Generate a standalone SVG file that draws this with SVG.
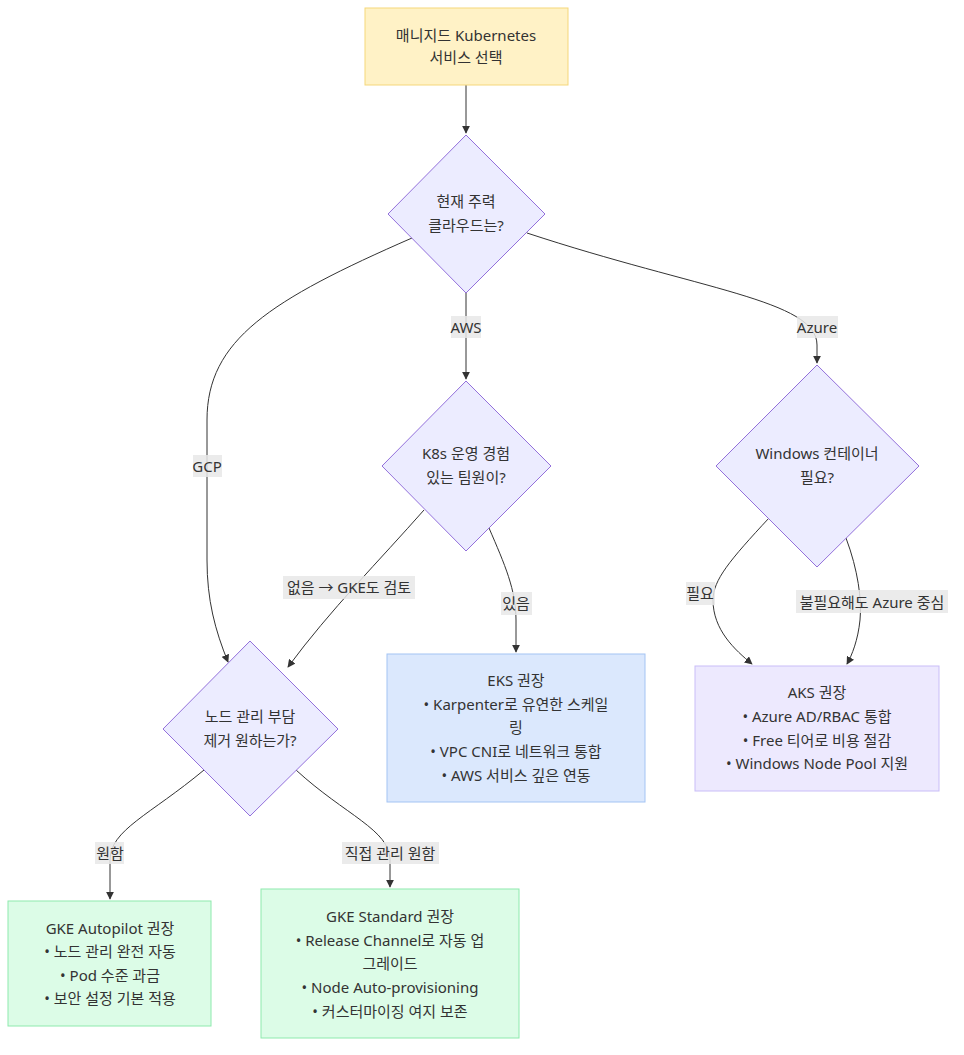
<svg xmlns="http://www.w3.org/2000/svg" width="964" height="1055" viewBox="0 0 964 1055">
<style>
text{font-family:"Noto Sans","Noto Sans CJK KR",sans-serif;font-size:15px;fill:#333;text-anchor:middle;dominant-baseline:central}
.dia{fill:#ececff;stroke:#9370db;stroke-width:1}
.edge{fill:none;stroke:#333;stroke-width:1}
.lbl{fill:#e8e8e8;opacity:0.85}
</style>
<defs>
<marker id="arr" viewBox="0 0 10 10" refX="9" refY="5" markerWidth="8" markerHeight="8" orient="auto" markerUnits="userSpaceOnUse">
<path d="M0,0 L10,5 L0,10 z" fill="#333"/>
</marker>
</defs>
<rect width="964" height="1055" fill="#fff"/>
<g id="connectors">
<path class="edge" d="M466,85 L466,133" marker-end="url(#arr)"/>
<path class="edge" d="M412,238 C270,300 207,340 207,420 L207,560 C207,600 215,630 228,662" marker-end="url(#arr)"/>
<path class="edge" d="M466,293 L466,379" marker-end="url(#arr)"/>
<path class="edge" d="M527,233 C700,290 817,300 817,345 L817,363" marker-end="url(#arr)"/>
<path class="edge" d="M424,510 C380,560 330,610 288,667" marker-end="url(#arr)"/>
<path class="edge" d="M489,528 C505,565 516,590 516,620 L516,652" marker-end="url(#arr)"/>
<path class="edge" d="M769,518 C730,560 713,580 713,600 C713,630 735,650 752,664" marker-end="url(#arr)"/>
<path class="edge" d="M846,538 C858,570 862,600 860,620 C858,640 852,655 847,664" marker-end="url(#arr)"/>
<path class="edge" d="M204,770 C150,815 110,830 110,860 L110,899" marker-end="url(#arr)"/>
<path class="edge" d="M296,770 C345,815 390,830 390,860 L390,887" marker-end="url(#arr)"/>
<rect class="lbl" x="451" y="316" width="30" height="22"/><text x="466" y="327">AWS</text>
<rect class="lbl" x="193" y="455" width="29" height="22"/><text x="207" y="466">GCP</text>
<rect class="lbl" x="797" y="316" width="41" height="22"/><text x="817" y="327">Azure</text>
<rect class="lbl" x="283" y="576" width="132" height="23"/><text x="349" y="587">없음 → GKE도 검토</text>
<rect class="lbl" x="501" y="592" width="31" height="23"/><text x="516" y="603">있음</text>
<rect class="lbl" x="686" y="582" width="29" height="23"/><text x="700" y="593">필요</text>
<rect class="lbl" x="796" y="590" width="152" height="23"/><text x="872" y="602">불필요해도 Azure 중심</text>
<rect class="lbl" x="95" y="842" width="29" height="22"/><text x="110" y="853">원함</text>
<rect class="lbl" x="342" y="842" width="97" height="22"/><text x="390" y="853">직접 관리 원함</text>
</g>
<g id="start">
<rect x="365" y="8" width="203" height="77" fill="#fff2c6" stroke="#f5d77a" stroke-width="1"/>
<text x="466" y="35">매니지드 Kubernetes</text>
<text x="466" y="57">서비스 선택</text>
</g>
<g id="cloud">
<polygon class="dia" points="466,135 545,214 466,293 388,214"/>
<text x="466" y="201">현재 주력</text>
<text x="466" y="225">클라우드는?</text>
</g>
<g id="k8s">
<polygon class="dia" points="466,381 551,466 466,551 382,466"/>
<text x="466" y="453">K8s 운영 경험</text>
<text x="466" y="477">있는 팀원이?</text>
</g>
<g id="windows">
<polygon class="dia" points="817,365 919,466 817,567 716,466"/>
<text x="817" y="453">Windows 컨테이너</text>
<text x="817" y="477">필요?</text>
</g>
<g id="node">
<polygon class="dia" points="250,641 338,729 250,816 163,729"/>
<text x="250" y="716">노드 관리 부담</text>
<text x="250" y="740">제거 원하는가?</text>
</g>
<g id="eks">
<rect x="387" y="654" width="258" height="148" fill="#dbe8fd" stroke="#a3c4f3" stroke-width="1"/>
<text x="516" y="680">EKS 권장</text>
<text x="516" y="704">• Karpenter로 유연한 스케일</text>
<text x="516" y="727">링</text>
<text x="516" y="751">• VPC CNI로 네트워크 통합</text>
<text x="516" y="775">• AWS 서비스 깊은 연동</text>
</g>
<g id="aks">
<rect x="695" y="666" width="244" height="125" fill="#ede9fe" stroke="#c9bdf8" stroke-width="1"/>
<text x="817" y="692">AKS 권장</text>
<text x="817" y="716">• Azure AD/RBAC 통합</text>
<text x="817" y="740">• Free 티어로 비용 절감</text>
<text x="817" y="763">• Windows Node Pool 지원</text>
</g>
<g id="autopilot">
<rect x="8" y="901" width="203" height="125" fill="#dcfce7" stroke="#8eeaad" stroke-width="1"/>
<text x="110" y="928">GKE Autopilot 권장</text>
<text x="110" y="951">• 노드 관리 완전 자동</text>
<text x="110" y="975">• Pod 수준 과금</text>
<text x="110" y="998">• 보안 설정 기본 적용</text>
</g>
<g id="standard">
<rect x="261" y="889" width="258" height="149" fill="#dcfce7" stroke="#8eeaad" stroke-width="1"/>
<text x="390" y="916">GKE Standard 권장</text>
<text x="390" y="940">• Release Channel로 자동 업</text>
<text x="390" y="963">그레이드</text>
<text x="390" y="987">• Node Auto-provisioning</text>
<text x="390" y="1011">• 커스터마이징 여지 보존</text>
</g>
</svg>
